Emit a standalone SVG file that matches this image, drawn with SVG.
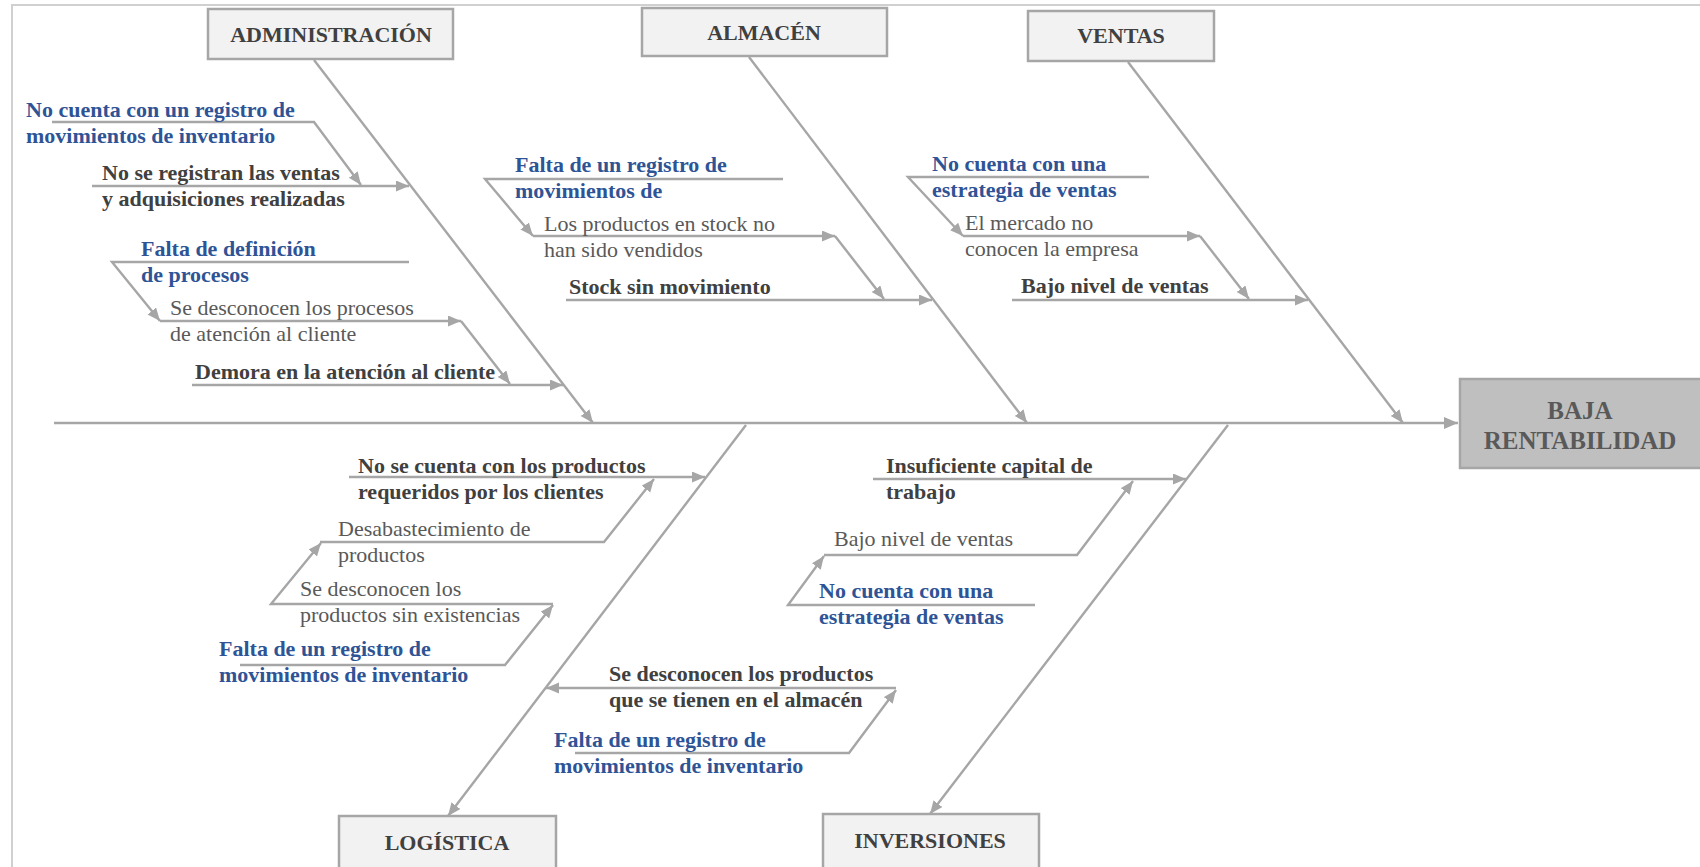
<svg xmlns="http://www.w3.org/2000/svg" width="1700" height="867" viewBox="0 0 1700 867">
<style>
text{font-family:"Liberation Serif","Times New Roman",serif;font-size:22px}
.t{font-weight:bold;fill:#404040;text-anchor:middle}
.b{font-weight:bold;fill:#2f5496}
.d{font-weight:bold;fill:#404040}
.n{fill:#595959}
.box{fill:#f2f2f2;stroke:#a6a6a6;stroke-width:2.5}
.ln{fill:none;stroke:#a6a6a6;stroke-width:2.4}
.a{marker-end:url(#ah)}
</style>
<defs>
<marker id="ah" markerUnits="userSpaceOnUse" markerWidth="15" markerHeight="12" refX="13" refY="5.5" orient="auto"><path d="M0,0 L13,5.5 L0,11 Z" fill="#a6a6a6"/></marker>
<marker id="ahb" markerUnits="userSpaceOnUse" markerWidth="16" markerHeight="14" refX="14" refY="6" orient="auto"><path d="M0,0 L14,6 L0,12 Z" fill="#a6a6a6"/></marker>
</defs>
<rect x="12" y="5" width="1720" height="900" fill="#fff" stroke="#d0d0d0" stroke-width="2"/>

<g id="connectors">
<line class="ln" x1="54" y1="423" x2="1458" y2="423" stroke-width="4" marker-end="url(#ahb)"/>
<line class="ln a" x1="314" y1="60" x2="593" y2="423"/>
<line class="ln a" x1="749" y1="57" x2="1027" y2="423"/>
<line class="ln a" x1="1128" y1="62" x2="1403" y2="423"/>
<line class="ln a" x1="746" y1="425" x2="448" y2="816"/>
<line class="ln a" x1="1228" y1="425" x2="930" y2="814"/>
<polyline class="ln a" points="52,122 314,122 361,185"/>
<line class="ln a" x1="92" y1="186" x2="409" y2="186"/>
<polyline class="ln a" points="409,262 112,262 160,321"/>
<line class="ln a" x1="160" y1="321" x2="461" y2="321"/>
<line class="ln a" x1="461" y1="321" x2="510" y2="384"/>
<line class="ln a" x1="192" y1="385" x2="563" y2="385"/>
<polyline class="ln a" points="783,179 485,179 533,236"/>
<line class="ln a" x1="533" y1="236" x2="835" y2="236"/>
<line class="ln a" x1="835" y1="236" x2="884" y2="299"/>
<line class="ln a" x1="566" y1="300" x2="932" y2="300"/>
<polyline class="ln a" points="1149,177 908,177 963,236"/>
<line class="ln a" x1="963" y1="236" x2="1200" y2="236"/>
<line class="ln a" x1="1200" y1="236" x2="1249" y2="299"/>
<line class="ln a" x1="1012" y1="300" x2="1308" y2="300"/>
<line class="ln a" x1="349" y1="477" x2="705" y2="477"/>
<polyline class="ln a" points="320,542 604,542 654,479"/>
<polyline class="ln a" points="553,604 271,604 321,543"/>
<polyline class="ln a" points="240,665 505,665 553,605"/>
<line class="ln a" x1="896" y1="688" x2="546" y2="688"/>
<polyline class="ln a" points="575,753 849,753 896,690"/>
<line class="ln a" x1="873" y1="479" x2="1186" y2="479"/>
<polyline class="ln a" points="824,555 1077,555 1133,481"/>
<polyline class="ln a" points="1035,605 788,605 824,556"/>
</g>

<g id="n-admin"><rect class="box" x="208" y="9" width="245" height="50"/><text class="t" x="331" y="42">ADMINISTRACIÓN</text></g>
<g id="n-almacen"><rect class="box" x="642" y="8" width="245" height="48"/><text class="t" x="764" y="40">ALMACÉN</text></g>
<g id="n-ventas"><rect class="box" x="1028" y="11" width="186" height="50"/><text class="t" x="1121" y="43">VENTAS</text></g>
<g id="n-logistica"><rect class="box" x="339" y="816" width="217" height="60"/><text class="t" x="447" y="850">LOGÍSTICA</text></g>
<g id="n-inversiones"><rect class="box" x="823" y="814" width="216" height="60"/><text class="t" x="930" y="848">INVERSIONES</text></g>
<g id="n-efecto"><rect x="1460" y="379" width="260" height="89" fill="#bfbfbf" stroke="#a6a6a6" stroke-width="2.5"/><text class="t" x="1580" y="419" style="font-size:25px;fill:#595959">BAJA</text><text class="t" x="1580" y="449" style="font-size:25px;fill:#595959">RENTABILIDAD</text></g>

<g id="c-admin-1"><text class="b" x="26" y="117">No cuenta con un registro de</text><text class="b" x="26" y="143">movimientos de inventario</text></g>
<g id="c-admin-2"><text class="d" x="102" y="180">No se registran las ventas</text><text class="d" x="102" y="206">y adquisiciones realizadas</text></g>
<g id="c-admin-3"><text class="b" x="141" y="256">Falta de definición</text><text class="b" x="141" y="282">de procesos</text></g>
<g id="c-admin-4"><text class="n" x="170" y="315">Se desconocen los procesos</text><text class="n" x="170" y="341">de atención al cliente</text></g>
<g id="c-admin-5"><text class="d" x="195" y="379">Demora en la atención al cliente</text></g>

<g id="c-alm-1"><text class="b" x="515" y="172">Falta de un registro de</text><text class="b" x="515" y="198">movimientos de</text></g>
<g id="c-alm-2"><text class="n" x="544" y="231">Los productos en stock no</text><text class="n" x="544" y="257">han sido vendidos</text></g>
<g id="c-alm-3"><text class="d" x="569" y="294">Stock sin movimiento</text></g>

<g id="c-ven-1"><text class="b" x="932" y="171">No cuenta con una</text><text class="b" x="932" y="197">estrategia de ventas</text></g>
<g id="c-ven-2"><text class="n" x="965" y="230">El mercado no</text><text class="n" x="965" y="256">conocen la empresa</text></g>
<g id="c-ven-3"><text class="d" x="1021" y="293">Bajo nivel de ventas</text></g>

<g id="c-log-1"><text class="d" x="358" y="473">No se cuenta con los productos</text><text class="d" x="358" y="499">requeridos por los clientes</text></g>
<g id="c-log-2"><text class="n" x="338" y="536">Desabastecimiento de</text><text class="n" x="338" y="562">productos</text></g>
<g id="c-log-3"><text class="n" x="300" y="596">Se desconocen los</text><text class="n" x="300" y="622">productos sin existencias</text></g>
<g id="c-log-4"><text class="b" x="219" y="656">Falta de un registro de</text><text class="b" x="219" y="682">movimientos de inventario</text></g>
<g id="c-log-5"><text class="d" x="609" y="681">Se desconocen los productos</text><text class="d" x="609" y="707">que se tienen en el almacén</text></g>
<g id="c-log-6"><text class="b" x="554" y="747">Falta de un registro de</text><text class="b" x="554" y="773">movimientos de inventario</text></g>

<g id="c-inv-1"><text class="d" x="886" y="473">Insuficiente capital de</text><text class="d" x="886" y="499">trabajo</text></g>
<g id="c-inv-2"><text class="n" x="834" y="546">Bajo nivel de ventas</text></g>
<g id="c-inv-3"><text class="b" x="819" y="598">No cuenta con una</text><text class="b" x="819" y="624">estrategia de ventas</text></g>
</svg>
